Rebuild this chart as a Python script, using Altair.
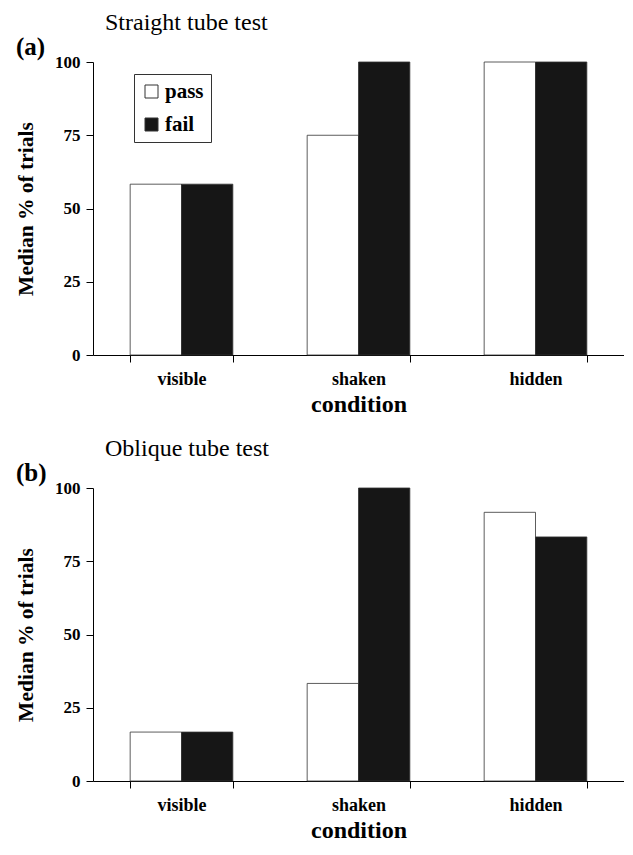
import altair as alt
import pandas as pd

conditions = ["visible", "shaken", "hidden"]
groups = ["pass", "fail"]
straight_pass = [58.3, 75.0, 100.0]
straight_fail = [58.3, 100.0, 100.0]
oblique_pass = [16.7, 33.3, 91.7]
oblique_fail = [16.7, 100.0, 83.3]

FONT = "Liberation Serif"
BLACK = "#161616"


def make_df(p, f):
    rows = []
    for c, a, b in zip(conditions, p, f):
        rows.append({"condition": c, "group": "pass", "value": a})
        rows.append({"condition": c, "group": "fail", "value": b})
    return pd.DataFrame(rows)


def panel(p, f, title, tag):
    df = make_df(p, f)
    bars = alt.Chart(df).mark_bar(stroke="#333333", strokeWidth=0.8).encode(
        x=alt.X("condition:N", sort=conditions,
                scale=alt.Scale(paddingInner=0.42, paddingOuter=0.21),
                axis=alt.Axis(title="condition", labelAngle=0, tickBand="extent",
                              labelFont=FONT, labelFontWeight="bold", labelFontSize=18,
                              labelColor="black", labelPadding=8,
                              titleFont=FONT, titleFontWeight="bold", titleFontSize=24,
                              titleColor="black", titlePadding=4,
                              domainColor="black", tickColor="black", tickSize=7)),
        xOffset=alt.XOffset("group:N", sort=groups, scale=alt.Scale(paddingInner=0, paddingOuter=0)),
        y=alt.Y("value:Q", scale=alt.Scale(domain=[0, 100]),
                axis=alt.Axis(title="Median % of trials", values=[0, 25, 50, 75, 100],
                              grid=False, labelFont=FONT, labelFontWeight="bold",
                              labelFontSize=17, labelColor="black", labelPadding=6,
                              titleFont=FONT, titleFontWeight="bold", titleFontSize=21.5,
                              titleColor="black", titlePadding=17,
                              domainColor="black", tickColor="black", tickSize=7)),
        color=alt.Color("group:N", sort=groups,
                        scale=alt.Scale(domain=groups, range=["white", BLACK]),
                        legend=alt.Legend(title=None, orient="none", legendX=41, legendY=12,
                                          strokeColor="#333333", padding=7,
                                          symbolType="square", symbolSize=169,
                                          symbolStrokeColor="#333333", symbolStrokeWidth=1,
                                          labelFont=FONT, labelFontWeight="bold",
                                          labelFontSize=21, labelColor="black",
                                          rowPadding=11, labelOffset=3)),
    )
    tag_mark = alt.Chart(df).mark_text(text=tag, font=FONT, fontWeight="bold", fontSize=25,
                                       align="left", baseline="middle", color="black").encode(
        x=alt.value(-77), y=alt.value(-15)
    ).transform_filter("datum.group == 'pass' && datum.condition == 'visible'")
    return alt.layer(bars, tag_mark).properties(
        width=531, height=293,
        title=alt.TitleParams(title, anchor="start", frame="group", dx=12, font=FONT,
                              fontSize=24, fontWeight="normal", color="black", offset=0),
    )


chart = alt.vconcat(
    panel(straight_pass, straight_fail, "Straight tube test", "(a)"),
    panel(oblique_pass, oblique_fail, "Oblique tube test", "(b)"),
    spacing=21,
).configure_view(stroke=None).properties(
    background="white",
    padding={"left": 7, "top": 3, "right": 0, "bottom": 0},
)

chart.save("out.html", embed_options={"renderer": "svg", "actions": False})
